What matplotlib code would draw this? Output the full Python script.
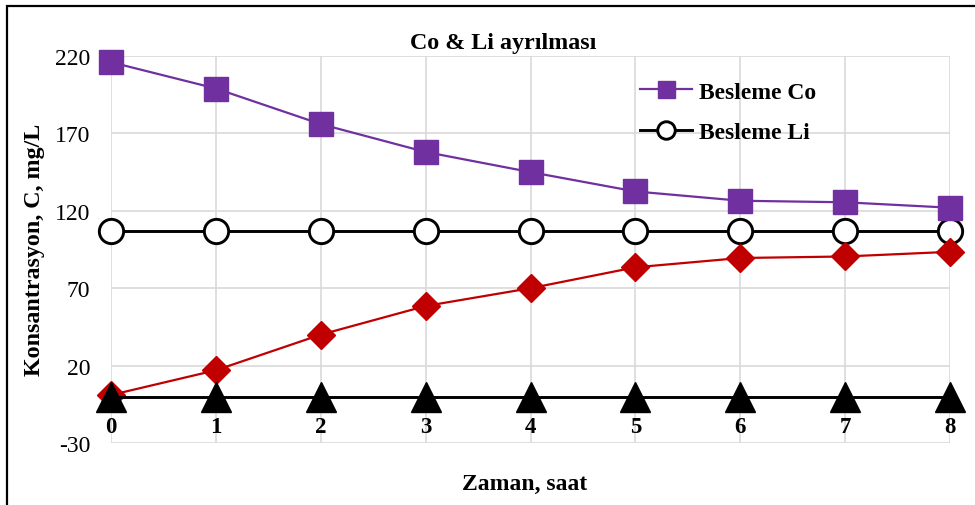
import matplotlib.pyplot as plt
from matplotlib.patches import Rectangle

plt.rcParams['font.family'] = ['Liberation Serif', 'DejaVu Serif']
plt.rcParams['axes.unicode_minus'] = False

# time, hours
zaman = [0, 1, 2, 3, 4, 5, 6, 7, 8]
# concentrations, mg/L
besleme_co = [216, 199, 176, 158, 145, 132.5, 126.5, 125.5, 122]
besleme_li = [107, 107, 107, 107, 107, 107, 107, 107, 107]
suzuntu_co = [1, 17, 40, 58.5, 70, 83.5, 89.5, 90.5, 93.5]
suzuntu_li = [0, 0, 0, 0, 0, 0, 0, 0, 0]
yticks = [-30, 20, 70, 120, 170, 220]

fig = plt.figure(figsize=(9.75, 5.06), dpi=100)
ax = fig.add_axes([111/975, 62/506, 839/975, 387/506])

ax.plot(zaman, besleme_li, color='black', lw=2.1, marker='o', ms=17.5,
        mfc='white', mec='black', mew=2.1, label='Besleme Li', clip_on=False, zorder=3)
ax.plot(zaman, besleme_co, color='#7030a0', lw=1.6, marker='s', ms=17,
        mfc='#7030a0', mec='#7030a0', label='Besleme Co', clip_on=False, zorder=4)
ax.plot(zaman, suzuntu_co, color='#c00000', lw=1.6, marker='D', ms=14,
        mfc='#c00000', mec='#c00000', clip_on=False, zorder=5)
ax.plot(zaman, suzuntu_li, color='black', lw=2.1, marker='^', ms=21,
        mfc='black', mec='black', clip_on=False, zorder=6)

ax.set_xlim(0, 8)
ax.set_ylim(-30, 220)
ax.set_xticks(zaman)
ax.set_yticks(yticks)
ax.grid(True, color='#d9d9d9', lw=1.2)
ax.set_axisbelow(True)
for s in ax.spines.values():
    s.set_visible(False)
ax.tick_params(axis='y', length=0, pad=15, labelsize=17)
ax.tick_params(axis='x', length=0, pad=-19.5, labelsize=16.5)
for lab in ax.get_xticklabels():
    lab.set_fontweight('bold')

h, l = ax.get_legend_handles_labels()
ax.legend([h[1], h[0]], [l[1], l[0]], loc='upper left',
          bbox_to_anchor=(640/975, (506-82)/506), bbox_transform=fig.transFigure,
          frameon=False, borderpad=0, borderaxespad=0, handlelength=2.2,
          handletextpad=0.3, labelspacing=0.8, markerscale=0.72,
          prop={'weight': 'bold', 'size': 17})

fig.text(503/975, 1 - 43/506, 'Co & Li ayrılması', ha='center', va='center',
         fontsize=17.3, fontweight='bold')
fig.text(35/975, 1 - 250/506, 'Konsantrasyon, C, mg/L', ha='center', va='center',
         rotation=90, fontsize=17.3, fontweight='bold')
fig.text(525/975, 1 - 484/506, 'Zaman, saat', ha='center', va='center',
         fontsize=17, fontweight='bold')

fig.patches.append(Rectangle((7/975, -0.1), 1.2, 1 - 7/506 + 0.1, transform=fig.transFigure,
                             fill=False, ec='black', lw=1.6))

fig.savefig('out.png', dpi=100)
